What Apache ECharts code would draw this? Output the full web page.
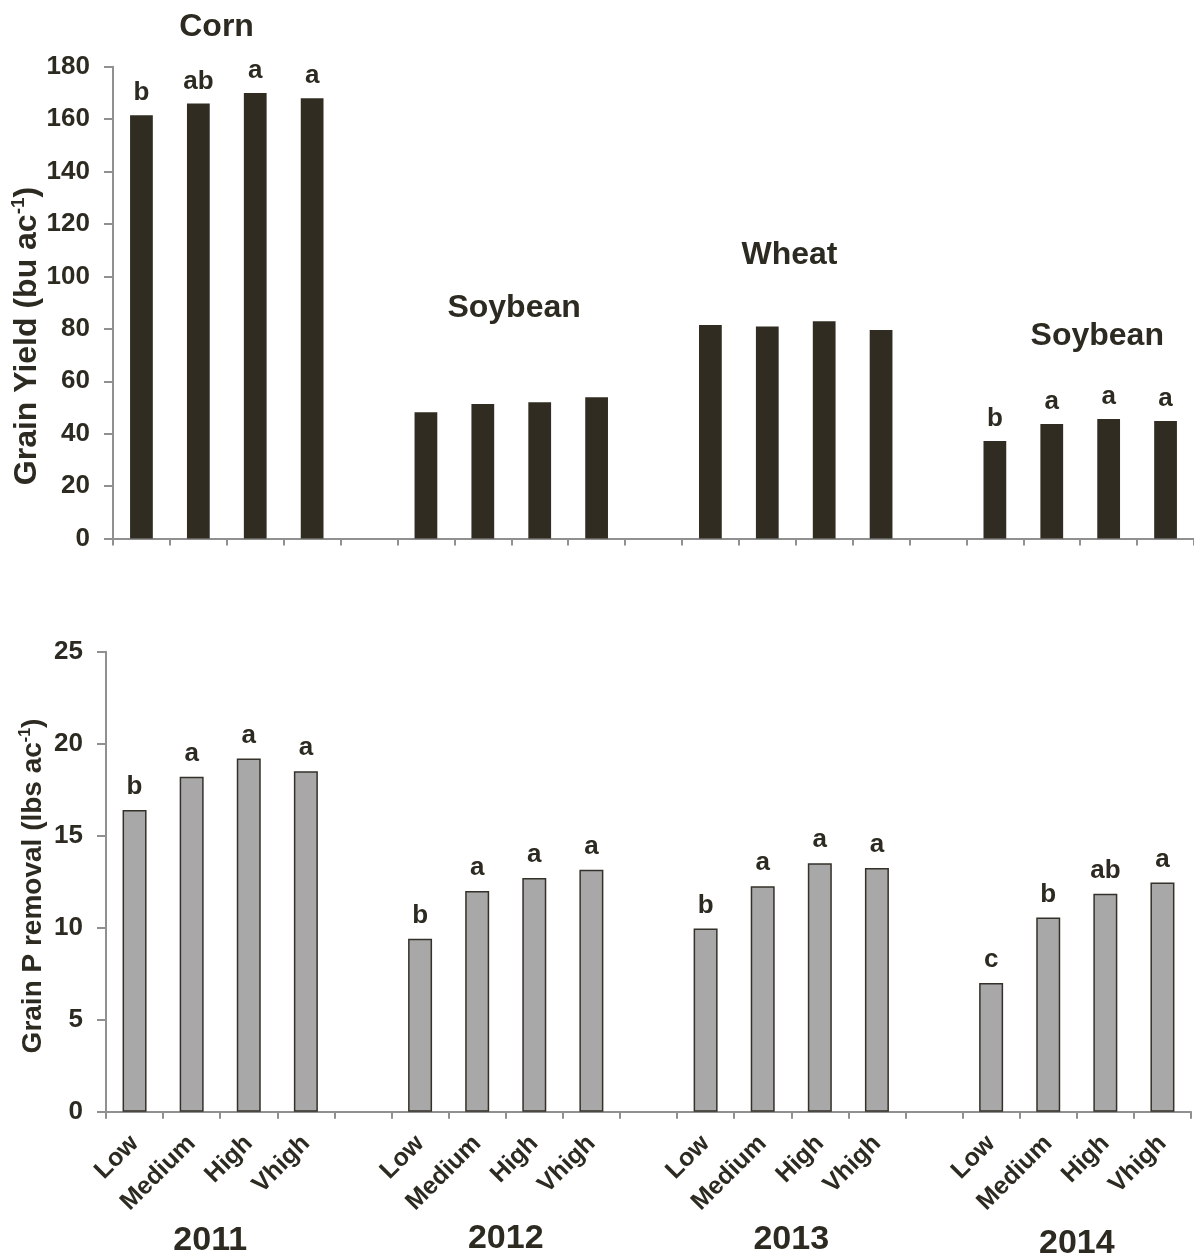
<!DOCTYPE html>
<html>
<head>
<meta charset="utf-8">
<title>Grain yield and grain P removal</title>
<script src="https://cdn.jsdelivr.net/npm/echarts@6/dist/echarts.min.js"></script>
<style>
  html, body { margin: 0; padding: 0; background: #fff; }
  #chart { width: 1194px; height: 1260px; }
</style>
</head>
<body>
<div id="chart"></div>
<script>
// Treatment levels and seasons
const levels = ['Low', 'Medium', 'High', 'Vhigh'];
const years = ['2011', '2012', '2013', '2014'];
const crops = ['Corn', 'Soybean', 'Wheat', 'Soybean'];

// Grain yield (bu/ac) per season, by level
const yieldCorn2011 = [161.5, 166.0, 170.0, 168.0];
const yieldSoy2012 = [48.2, 51.3, 52.0, 53.9];
const yieldWheat2013 = [81.5, 80.9, 82.9, 79.6];
const yieldSoy2014 = [37.2, 43.7, 45.6, 44.8];
const yieldLetters = [['b', 'ab', 'a', 'a'], ['', '', '', ''], ['', '', '', ''], ['b', 'a', 'a', 'a']];

// Grain P removal (lbs/ac) per season, by level
const pRemoval2011 = [16.4, 18.2, 19.2, 18.5];
const pRemoval2012 = [9.4, 12.0, 12.7, 13.15];
const pRemoval2013 = [9.95, 12.25, 13.5, 13.25];
const pRemoval2014 = [7.0, 10.55, 11.85, 12.45];
const pLetters = [['b', 'a', 'a', 'a'], ['b', 'a', 'a', 'a'], ['b', 'a', 'a', 'a'], ['c', 'b', 'ab', 'a']];

// Axis ranges
const yieldAxis = { min: 0, max: 180, interval: 20 };
const pAxis = { min: 0, max: 25, interval: 5 };

const FONT = '"Liberation Sans", Arial, Helvetica, sans-serif';
const INK = '#2d2a21';

// Four groups of bars with an empty slot between groups
function flatten(groups, blank) {
  const out = [];
  groups.forEach((g, gi) => {
    g.forEach(v => out.push(v));
    if (gi < groups.length - 1) out.push(blank);
  });
  return out;
}
const categories = flatten(years.map(() => levels), '');
const yieldData = flatten([yieldCorn2011, yieldSoy2012, yieldWheat2013, yieldSoy2014], '-');
const yieldLabelText = flatten(yieldLetters, '');
const pData = flatten([pRemoval2011, pRemoval2012, pRemoval2013, pRemoval2014], '-');
const pLabelText = flatten(pLetters, '');

const axisLineStyle = { color: '#909090', width: 2 };
const tickLabel = { fontFamily: FONT, fontWeight: 'bold', fontSize: 26, color: INK };

const chart = echarts.init(document.getElementById('chart'), null, { renderer: 'canvas' });

chart.setOption({
  backgroundColor: '#ffffff',
  animation: false,
  grid: [
    { left: 113, top: 66.8, width: 1084, height: 471.7 },
    { left: 106, top: 651.7, width: 1085, height: 460 }
  ],
  xAxis: [
    {
      type: 'category', gridIndex: 0, data: categories,
      axisLine: { lineStyle: axisLineStyle },
      axisTick: { show: true, length: 7, lineStyle: axisLineStyle },
      axisLabel: { show: false },
      splitLine: { show: false }
    },
    {
      type: 'category', gridIndex: 1, data: categories,
      axisLine: { lineStyle: axisLineStyle },
      axisTick: { show: true, length: 7, lineStyle: axisLineStyle },
      axisLabel: {
        interval: 0, rotate: 45, margin: 28,
        fontFamily: FONT, fontWeight: 'bold', fontSize: 25, color: INK
      },
      splitLine: { show: false }
    }
  ],
  yAxis: [
    {
      type: 'value', gridIndex: 0,
      min: yieldAxis.min, max: yieldAxis.max, interval: yieldAxis.interval,
      axisLine: { show: true, lineStyle: axisLineStyle },
      axisTick: { show: true, length: 9, lineStyle: axisLineStyle },
      axisLabel: Object.assign({ margin: 23 }, tickLabel),
      splitLine: { show: false }
    },
    {
      type: 'value', gridIndex: 1,
      min: pAxis.min, max: pAxis.max, interval: pAxis.interval,
      axisLine: { show: true, lineStyle: axisLineStyle },
      axisTick: { show: true, length: 9, lineStyle: axisLineStyle },
      axisLabel: Object.assign({ margin: 23 }, tickLabel),
      splitLine: { show: false }
    }
  ],
  series: [
    {
      name: 'Grain yield', type: 'bar', xAxisIndex: 0, yAxisIndex: 0,
      data: yieldData, barWidth: '40%',
      itemStyle: { color: '#302c22' },
      label: {
        show: true, position: 'top', distance: 9,
        formatter: p => yieldLabelText[p.dataIndex] || '',
        fontFamily: FONT, fontWeight: 'bold', fontSize: 26, color: INK
      }
    },
    {
      name: 'Grain P removal', type: 'bar', xAxisIndex: 1, yAxisIndex: 1,
      data: pData, barWidth: '42%',
      itemStyle: { color: '#a8a8a8', borderColor: '#35312a', borderWidth: 1.5 },
      label: {
        show: true, position: 'top', distance: 10,
        formatter: p => pLabelText[p.dataIndex] || '',
        fontFamily: FONT, fontWeight: 'bold', fontSize: 26, color: INK
      }
    }
  ]
});

// Pixel position of a (possibly fractional) category slot and value on a grid
function toPixel(axisIdx, slot, value) {
  const lo = Math.floor(slot);
  const a = chart.convertToPixel({ xAxisIndex: axisIdx, yAxisIndex: axisIdx }, [lo, value]);
  const b = chart.convertToPixel({ xAxisIndex: axisIdx, yAxisIndex: axisIdx }, [lo + 1, value]);
  const f = slot - lo;
  return [a[0] + (b[0] - a[0]) * f, a[1]];
}

// Crop names above each season in the yield panel: [slot, value]
const cropTitleAnchors = [[1.32, 195], [6.55, 88], [11.39, 108], [16.8, 77.3]];
// Season labels below the lower panel, horizontal nudge in px
const yearNudge = [-10, 0, 0, 0];
const yearRowY = [1241, 1239, 1240, 1244];

const graphics = [];
crops.forEach((c, i) => {
  const p = toPixel(0, cropTitleAnchors[i][0], cropTitleAnchors[i][1]);
  graphics.push({
    type: 'text', x: p[0], y: p[1],
    style: {
      text: c, fill: INK, align: 'center', verticalAlign: 'middle',
      font: 'bold 32px ' + FONT
    }
  });
});
years.forEach((y, i) => {
  const p = toPixel(1, i * 5 + 1.5, 0);
  graphics.push({
    type: 'text', x: p[0] + yearNudge[i], y: yearRowY[i],
    style: {
      text: y, fill: INK, align: 'center', verticalAlign: 'middle',
      font: 'bold 34px ' + FONT
    }
  });
});

// Vertical axis titles with superscript units
function axisTitle(main, x, y, size) {
  return {
    type: 'text', x: x, y: y, rotation: Math.PI / 2,
    style: {
      text: '{m|' + main + '}{s|-1}{m|)}',
      align: 'center', verticalAlign: 'middle',
      rich: {
        m: { fontFamily: FONT, fontWeight: 'bold', fontSize: size, fill: INK, lineHeight: size + 3 },
        s: {
          fontFamily: FONT, fontWeight: 'bold', fontSize: Math.round(size * 0.58), fill: INK,
          lineHeight: size + 3, verticalAlign: 'top', padding: [0, 0, Math.round(size * 0.38), 0]
        }
      }
    }
  };
}
graphics.push(axisTitle('Grain Yield (bu ac', 27, 336, 32));
graphics.push(axisTitle('Grain P removal (lbs ac', 33, 886, 28));

chart.setOption({ graphic: graphics });
</script>
</body>
</html>
